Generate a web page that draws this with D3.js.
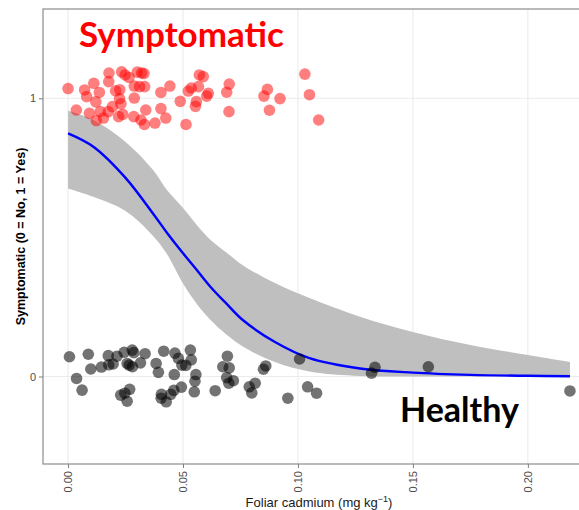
<!DOCTYPE html>
<html>
<head>
<meta charset="utf-8">
<script src="https://cdnjs.cloudflare.com/ajax/libs/d3/7.8.5/d3.min.js"></script>
<style>
  body { margin: 0; background: #fff; }
  svg { display: block; font-family: "Liberation Sans", Arial, sans-serif; }
</style>
</head>
<body>
<svg id="chart" width="579" height="510"></svg>
<script>
// DATA
// symptomatic plants (jittered around 1)
const redCadmium = [0.0000, 0.0036, 0.0072, 0.0081, 0.0093, 0.0112, 0.0121, 0.0123, 0.0136, 0.0140,
  0.0154, 0.0178, 0.0177, 0.0175, 0.0193, 0.0207, 0.0220, 0.0225, 0.0224, 0.0230,
  0.0233, 0.0238, 0.0248, 0.0265, 0.0286, 0.0288, 0.0288, 0.0301, 0.0311, 0.0317,
  0.0320, 0.0330, 0.0333, 0.0332, 0.0338, 0.0378, 0.0404, 0.0404, 0.0425, 0.0443,
  0.0488, 0.0513, 0.0523, 0.0536, 0.0571, 0.0588, 0.0567, 0.0610, 0.0603, 0.0558,
  0.0554, 0.0701, 0.0690, 0.0700, 0.0867, 0.0852, 0.0922, 0.0876, 0.1030, 0.1050,
  0.1090];
const redJitter = [1.035, 0.958, 1.030, 1.006, 0.946, 1.054, 0.987, 0.920, 1.021, 0.952,
  0.929, 1.091, 1.060, 0.952, 0.970, 1.027, 0.934, 1.031, 0.999, 0.980,
  1.095, 0.942, 1.084, 1.075, 0.934, 1.044, 1.001, 1.094, 1.042, 0.922,
  1.091, 1.089, 1.042, 0.906, 0.958, 0.911, 0.963, 1.021, 0.929, 1.044,
  0.989, 0.906, 1.026, 1.037, 1.084, 1.078, 1.042, 1.018, 1.008, 0.988,
  0.971, 1.051, 1.022, 0.952, 1.032, 1.008, 0.999, 0.957, 1.087, 1.013,
  0.922];

// healthy plants (jittered around 0)
const blackCadmium = [0.0006, 0.0037, 0.0061, 0.0088, 0.0099, 0.0145, 0.0175, 0.0177, 0.0196, 0.0213,
  0.0229, 0.0247, 0.0257, 0.0268, 0.0244, 0.0257, 0.0266, 0.0279, 0.0286, 0.0280,
  0.0315, 0.0335, 0.0383, 0.0393, 0.0406, 0.0416, 0.0405, 0.0427, 0.0447, 0.0460,
  0.0462, 0.0465, 0.0480, 0.0493, 0.0495, 0.0512, 0.0532, 0.0536, 0.0556, 0.0552,
  0.0549, 0.0640, 0.0673, 0.0693, 0.0701, 0.0690, 0.0699, 0.0719, 0.0788, 0.0799,
  0.0814, 0.0850, 0.0860, 0.0956, 0.1007, 0.1042, 0.1081, 0.1335, 0.1320, 0.1567,
  0.2183];
const blackJitter = [0.071, -0.007, -0.049, 0.080, 0.027, 0.034, 0.075, 0.042, 0.045, 0.073,
  -0.067, -0.060, -0.089, -0.046, 0.087, 0.047, 0.041, 0.095, 0.086, 0.035,
  0.049, 0.082, 0.047, 0.015, -0.064, 0.091, -0.078, -0.091, -0.064, -0.050,
  0.007, 0.084, 0.065, -0.038, 0.041, 0.040, 0.095, 0.060, 0.007, -0.017,
  -0.055, -0.051, 0.035, 0.073, 0.031, -0.004, -0.024, -0.015, -0.037, -0.059,
  -0.024, 0.026, 0.038, -0.078, 0.063, -0.037, -0.060, 0.033, 0.012, 0.035,
  -0.052];

// logistic fit with its confidence band
const fitCadmium = [0, 0.011, 0.025, 0.037, 0.043, 0.050, 0.056, 0.062, 0.069, 0.076, 0.090, 0.105, 0.127, 0.150, 0.175, 0.200, 0.2183];
const fitProb    = [0.874, 0.826, 0.714, 0.585, 0.517, 0.443, 0.383, 0.322, 0.261, 0.203, 0.124, 0.066, 0.029, 0.014, 0.006, 0.0025, 0.001];
const fitLower   = [0.676, 0.646, 0.595, 0.505, 0.440, 0.334, 0.261, 0.203, 0.150, 0.108, 0.052, 0.018, 0.002, 0.000, 0.000, 0.000, 0.000];
const fitUpper   = [0.955, 0.922, 0.843, 0.742, 0.670, 0.606, 0.545, 0.491, 0.445, 0.400, 0.336, 0.282, 0.215, 0.160, 0.113, 0.077, 0.052];

const xTicks = [0, 0.05, 0.10, 0.15, 0.20];
const yTicks = [0, 1];

// SETUP: panel position (right side runs past the picture edge)
const panel = { left: 43, top: 9, right: 595, bottom: 464 };

const svg = d3.select("#chart");

// 1: SCALES
const x = d3.scaleLinear()
  .domain([-0.0109, 0.2292])
  .range([panel.left, panel.right]);

const y = d3.scaleLinear()
  .domain([-0.3145, 1.321])
  .range([panel.bottom, panel.top]);

svg.append("clipPath").attr("id", "clip")
  .append("rect")
  .attr("x", panel.left).attr("y", panel.top)
  .attr("width", panel.right - panel.left)
  .attr("height", panel.bottom - panel.top);

const plot = svg.append("g").attr("clip-path", "url(#clip)");

// 2: GRID LINES
plot.selectAll(".vgrid")
  .data(xTicks)
  .enter()
  .append("line")
  .attr("x1", d => x(d)).attr("x2", d => x(d))
  .attr("y1", panel.top).attr("y2", panel.bottom)
  .attr("stroke", "#ebebeb")
  .attr("stroke-width", 1.1);

plot.selectAll(".hgrid")
  .data(yTicks)
  .enter()
  .append("line")
  .attr("x1", panel.left).attr("x2", panel.right)
  .attr("y1", d => y(d)).attr("y2", d => y(d))
  .attr("stroke", "#ebebeb")
  .attr("stroke-width", 1.1);

// 3: CONFIDENCE BAND + FITTED LINE
const fitData = fitCadmium.map((c, i) => ({
  c, p: fitProb[i], lo: fitLower[i], hi: fitUpper[i]
}));

const smooth = d3.curveCatmullRom.alpha(0.5);

const band = d3.area()
  .x(d => x(d.c))
  .y0(d => y(d.lo))
  .y1(d => y(d.hi))
  .curve(smooth);

plot.append("path")
  .datum(fitData)
  .attr("d", band)
  .attr("fill", "#bfbfbf");

const line = d3.line()
  .x(d => x(d.c))
  .y(d => y(d.p))
  .curve(smooth);

plot.append("path")
  .datum(fitData)
  .attr("d", line)
  .attr("fill", "none")
  .attr("stroke", "#0000ff")
  .attr("stroke-width", 2.4);

// 4: POINTS
const redPts = redCadmium.map((c, i) => ({ c, v: redJitter[i] }));
const blackPts = blackCadmium.map((c, i) => ({ c, v: blackJitter[i] }));

plot.selectAll(".red")
  .data(redPts)
  .enter()
  .append("circle")
  .attr("cx", d => x(d.c))
  .attr("cy", d => y(d.v))
  .attr("r", 5.8)
  .attr("fill", "#ff0000")
  .attr("fill-opacity", 0.5);

plot.selectAll(".black")
  .data(blackPts)
  .enter()
  .append("circle")
  .attr("cx", d => x(d.c))
  .attr("cy", d => y(d.v))
  .attr("r", 5.8)
  .attr("fill", "#000000")
  .attr("fill-opacity", 0.55);

// 5: PANEL BORDER
svg.append("rect")
  .attr("x", panel.left).attr("y", panel.top)
  .attr("width", panel.right - panel.left)
  .attr("height", panel.bottom - panel.top)
  .attr("fill", "none")
  .attr("stroke", "#8c8c8c")
  .attr("stroke-width", 1.2);

// 6: AXES
const yAxis = svg.append("g")
  .attr("transform", `translate(${panel.left},0)`)
  .call(d3.axisLeft(y).tickValues(yTicks).tickSize(4).tickPadding(3).tickFormat(d3.format("d")));

const xAxis = svg.append("g")
  .attr("transform", `translate(0,${panel.bottom})`)
  .call(d3.axisBottom(x).tickValues(xTicks).tickSize(4).tickPadding(3).tickFormat(d3.format(".2f")));

[yAxis, xAxis].forEach(g => {
  g.select(".domain").remove();
  g.selectAll(".tick line").attr("stroke", "#7f7f7f");
  g.selectAll(".tick text")
    .attr("fill", "#4d4d4d")
    .style("font-size", "11px")
    .style("font-family", "'Liberation Sans', Arial, sans-serif");
});

// rotate the x tick labels
xAxis.selectAll(".tick text")
  .attr("transform", "rotate(-90)")
  .attr("x", -7)
  .attr("y", 0)
  .attr("dy", "0.35em")
  .attr("text-anchor", "end");

// 7: LABELS
svg.append("text")
  .attr("transform", `translate(21,${(panel.top + panel.bottom) / 2}) rotate(-90)`)
  .attr("text-anchor", "middle")
  .attr("dy", "0.35em")
  .style("font-size", "12.5px")
  .style("font-weight", "bold")
  .attr("fill", "#000")
  .text("Symptomatic (0 = No, 1 = Yes)");

const xLab = svg.append("text")
  .attr("x", (panel.left + panel.right) / 2)
  .attr("y", 507)
  .attr("text-anchor", "middle")
  .style("font-size", "13px")
  .attr("fill", "#1a1a1a");
xLab.append("tspan").text("Foliar cadmium (mg kg");
xLab.append("tspan").attr("dy", -5).style("font-size", "9px").text("\u22121");
xLab.append("tspan").attr("dy", 5).text(")");

// big annotations
svg.append("text")
  .attr("x", 79)
  .attr("y", 47)
  .style("font-family", "Lato, 'Liberation Sans', sans-serif")
  .style("font-size", "35px")
  .style("font-weight", "bold")
  .attr("fill", "#ff0000")
  .text("Symptomatic");

svg.append("text")
  .attr("x", 400)
  .attr("y", 422)
  .style("font-family", "Lato, 'Liberation Sans', sans-serif")
  .style("font-size", "34px")
  .style("font-weight", "bold")
  .attr("fill", "#000")
  .text("Healthy");
</script>
</body>
</html>
